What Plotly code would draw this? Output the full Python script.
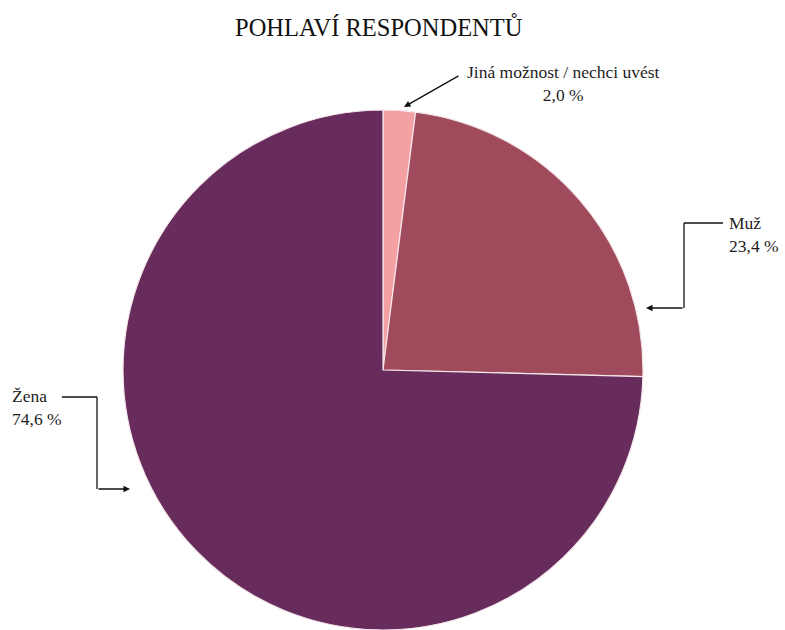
import plotly.graph_objects as go

# Gender of respondents (share in %)
categories = ["Jiná možnost / nechci uvést", "Muž", "Žena"]
shares = [2.0, 23.4, 74.6]
colors = ["#F3A1A3", "#9F4B5C", "#672C5C"]

W, H = 785, 630
FONT = "Liberation Serif"
TXT = "#1e1e1e"


def px(x):
    return x / W


def py(y):
    return 1 - y / H


def pct(v):
    return f"{v:.1f}".replace(".", ",") + " %"


fig = go.Figure(
    go.Pie(
        labels=categories,
        values=shares,
        sort=False,
        direction="clockwise",
        rotation=0,
        textinfo="none",
        marker=dict(colors=colors, line=dict(color="#f4e6ea", width=1.2)),
        domain=dict(x=[px(121), px(645)], y=[0, py(110)]),
        showlegend=False,
    )
)

label_font = dict(family=FONT, size=17.5, color=TXT)

annotations = [
    # title
    dict(x=px(379), y=py(27), text="POHLAVÍ RESPONDENTŮ", showarrow=False,
         font=dict(family=FONT, size=24.5, color="#111"),
         xanchor="center", yanchor="middle"),
    # small slice label with diagonal arrow
    dict(x=px(563), y=py(84), text=f"{categories[0]}<br>{pct(shares[0])}",
         showarrow=False, align="center", xanchor="center", yanchor="middle",
         font=label_font),
    dict(x=px(404), y=py(107), ax=56, ay=-32, text="", showarrow=True,
         arrowhead=2, arrowsize=1, arrowwidth=1.3, arrowcolor="#111"),
    # Muž label with elbow leader
    dict(x=px(727), y=py(234), text=f"{categories[1]}<br>{pct(shares[1])}",
         showarrow=False, align="left", xanchor="left", yanchor="middle",
         font=label_font),
    dict(x=px(646), y=py(308), ax=38, ay=0, text="", showarrow=True,
         arrowhead=2, arrowsize=1, arrowwidth=1.3, arrowcolor="#111"),
    # Žena label with elbow leader
    dict(x=px(10), y=py(407), text=f"{categories[2]}<br>{pct(shares[2])}",
         showarrow=False, align="left", xanchor="left", yanchor="middle",
         font=label_font),
    dict(x=px(130), y=py(489), ax=-33, ay=0, text="", showarrow=True,
         arrowhead=2, arrowsize=1, arrowwidth=1.3, arrowcolor="#111"),
]
for a in annotations:
    a["xref"] = "paper"
    a["yref"] = "paper"

line_style = dict(color="#111", width=1.3)
shapes = [
    # Muž leader
    dict(type="line", x0=px(723), y0=py(223), x1=px(684), y1=py(223)),
    dict(type="line", x0=px(684), y0=py(223), x1=px(684), y1=py(308)),
    # Žena leader
    dict(type="line", x0=px(62), y0=py(397), x1=px(97), y1=py(397)),
    dict(type="line", x0=px(97), y0=py(397), x1=px(97), y1=py(489)),
]
for s in shapes:
    s.update(xref="paper", yref="paper", line=line_style)

fig.update_layout(
    width=W,
    height=H,
    margin=dict(l=0, r=0, t=0, b=0),
    paper_bgcolor="white",
    plot_bgcolor="white",
    font=dict(family=FONT, color=TXT),
    annotations=annotations,
    shapes=shapes,
)

fig.write_html("out.html")
